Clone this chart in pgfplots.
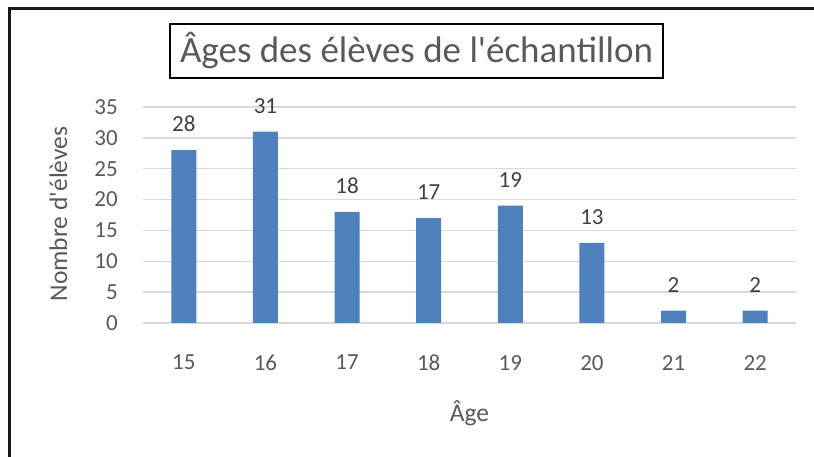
\documentclass[border=0pt]{standalone}
\usepackage{fontspec}
\setmainfont{Carlito}
\usepackage{pgfplots}
\pgfplotsset{compat=1.18}
\definecolor{barblue}{HTML}{4F81BD}
\definecolor{txt}{HTML}{595959}
\definecolor{gridc}{HTML}{D9D9D9}
\definecolor{lbl}{HTML}{404040}
\begin{document}
\begin{tikzpicture}[x=1pt,y=1pt]
\path[use as bounding box] (0,0) rectangle (814,457);
\begin{axis}[
  at={(143pt,134pt)}, anchor=south west,
  scale only axis, width=653pt, height=216pt,
  xmin=14.5, xmax=22.5, ymin=0, ymax=35,
  ybar, bar width=25pt,
  xtick={15,16,17,18,19,20,21,22},
  ytick={0,5,10,15,20,25,30,35},
  axis line style={draw=none},
  tick style={draw=none},
  major tick length=0pt,
  ymajorgrids, grid style={gridc, line width=1.5pt},
  /pgf/number format/assume math mode=true,
  ticklabel style={font=\fontsize{23}{23}\selectfont, text=txt},
  xticklabel style={anchor=north, inner sep=0pt, yshift=-32pt},
  yticklabel style={anchor=east, inner sep=0pt, xshift=-25pt},
  nodes near coords,
  every node near coord/.append style={font=\fontsize{23}{23}\selectfont, text=lbl, anchor=south, inner sep=0pt, yshift=18pt},
  clip=false,
]
\addplot[fill=barblue, draw=none] coordinates {
  (15,28) (16,31) (17,18) (18,17) (19,19) (20,13) (21,2) (22,2)
};
\end{axis}
% frame
\draw[line width=3pt, black!90, line join=miter] (9,0) -- (9,448.5) -- (814,448.5);
% title
\draw[line width=2pt, black] (170,379) rectangle (663,433);
\node[anchor=base, inner sep=0pt, text=txt, font=\fontsize{37}{37}\selectfont] at (416.5,394) {Âges des élèves de l\textquotesingle échantillon};
% axis titles
\node[anchor=base, inner sep=0pt, text=txt, font=\fontsize{25.5}{25.5}\selectfont] at (469.5,35) {Âge};
\node[anchor=base, rotate=90, inner sep=0pt, text=txt, font=\fontsize{25.5}{25.5}\selectfont] at (67,243) {Nombre d\textquotesingle élèves};
\end{tikzpicture}
\end{document}
